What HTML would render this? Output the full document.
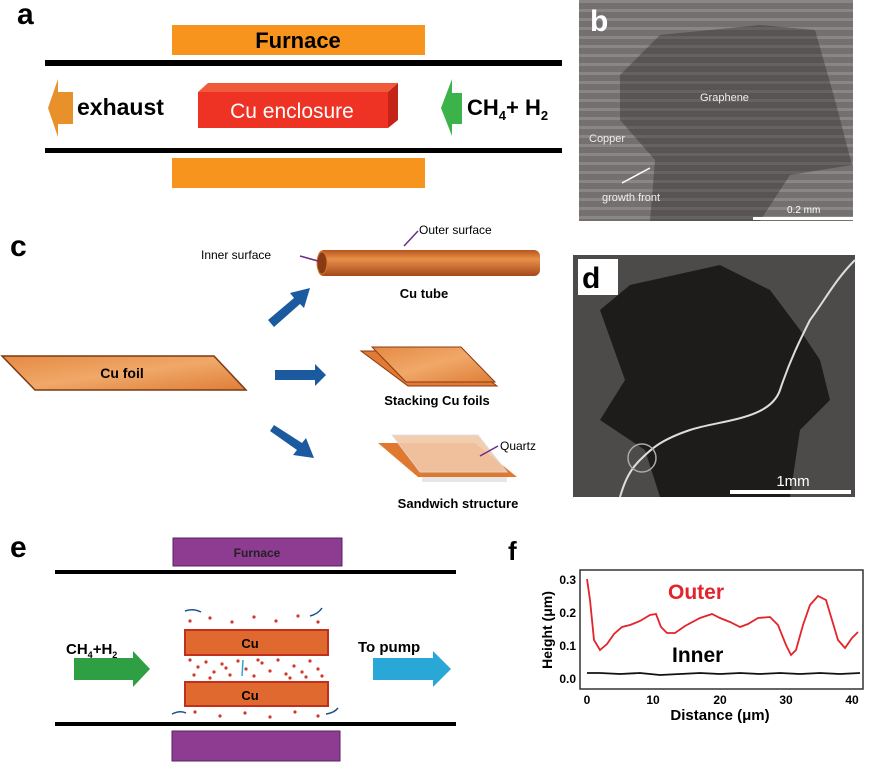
<!DOCTYPE html>
<html><head><meta charset="utf-8"><style>
html,body{margin:0;padding:0;background:#fff;}
svg{display:block;font-family:"Liberation Sans",Arial,sans-serif;}
</style></head><body>
<svg width="869" height="762" viewBox="0 0 869 762" xmlns="http://www.w3.org/2000/svg">
<defs>
<linearGradient id="tube" x1="0" y1="0" x2="0" y2="1">
<stop offset="0" stop-color="#b8541c"/><stop offset="0.35" stop-color="#e8904a"/><stop offset="1" stop-color="#a5481a"/></linearGradient>
<linearGradient id="foil" x1="0" y1="0" x2="1" y2="1">
<stop offset="0" stop-color="#e58a45"/><stop offset="0.5" stop-color="#f0a868"/><stop offset="1" stop-color="#df7d38"/></linearGradient>
<pattern id="stripes" width="10" height="9" patternUnits="userSpaceOnUse">
<rect width="10" height="9" fill="#747070"/><rect y="0" width="10" height="3" fill="#8a8686"/></pattern>
<pattern id="stripes2" width="10" height="9" patternUnits="userSpaceOnUse">
<rect width="10" height="9" fill="#585454"/><rect y="0" width="10" height="3" fill="#666262"/></pattern>
</defs>

<!-- Panel a -->
<text x="17" y="24" font-size="30" font-weight="bold">a</text>
<rect x="172" y="25" width="253" height="30" fill="#f7941d"/>
<text x="298" y="48" font-size="22" font-weight="bold" text-anchor="middle">Furnace</text>
<rect x="45" y="60" width="517" height="6" fill="#000"/>
<rect x="45" y="148" width="517" height="5" fill="#000"/>
<rect x="172" y="158" width="253" height="30" fill="#f7941d"/>
<polygon points="58,92 73,92 73,124 58,124 58,137 48,108 58,79" fill="#e8902a"/>
<text x="77" y="115" font-size="23" font-weight="bold">exhaust</text>
<polygon points="198,92 208,83 398,83 388,92" fill="#f05a3a"/>
<polygon points="388,92 398,83 398,120 388,128" fill="#c42418"/>
<rect x="198" y="92" width="190" height="36" fill="#ee3224"/>
<text x="292" y="118" font-size="21" fill="#fff" text-anchor="middle">Cu enclosure</text>
<polygon points="452,93 462,93 462,124 452,124 452,136 441,108 452,79" fill="#3bb34a"/>
<text x="467" y="115" font-size="22" font-weight="bold">CH<tspan font-size="13" dy="5">4</tspan><tspan dy="-5">+ H</tspan><tspan font-size="13" dy="5">2</tspan></text>

<!-- Panel b -->
<rect x="579" y="0" width="274" height="221" fill="url(#stripes)"/>
<polygon points="620,75 660,35 760,25 815,30 835,100 852,165 790,175 760,221 650,221 655,160 620,120" fill="url(#stripes2)"/>
<text x="590" y="31" font-size="30" font-weight="bold" fill="#fff">b</text>
<text x="700" y="101" font-size="11" fill="#eee">Graphene</text>
<text x="589" y="142" font-size="11" fill="#eee">Copper</text>
<line x1="622" y1="183" x2="650" y2="168" stroke="#fff" stroke-width="1.5"/>
<text x="602" y="201" font-size="11" fill="#eee">growth front</text>
<rect x="753" y="217" width="100" height="3" fill="#fff"/>
<text x="787" y="213" font-size="10" fill="#fff">0.2 mm</text>

<!-- Panel c -->
<text x="10" y="256" font-size="30" font-weight="bold">c</text>
<rect x="318" y="250" width="222" height="26" rx="6" fill="url(#tube)"/>
<ellipse cx="322" cy="263" rx="5" ry="11" fill="#8a3a12" stroke="#d07a3a"/>
<text x="201" y="259" font-size="12">Inner surface</text>
<line x1="300" y1="256" x2="318" y2="261" stroke="#6a2b8a" stroke-width="1.5"/>
<text x="419" y="234" font-size="12">Outer surface</text>
<line x1="418" y1="231" x2="404" y2="246" stroke="#6a2b8a" stroke-width="1.5"/>
<text x="424" y="298" font-size="13" font-weight="bold" text-anchor="middle">Cu tube</text>
<polygon points="2,356 214,356 246,390 35,390" fill="url(#foil)" stroke="#7a3a12" stroke-width="1.5"/>
<text x="122" y="378" font-size="14" font-weight="bold" text-anchor="middle">Cu foil</text>
<g fill="#1c5aa0">
<polygon points="268,320 294,298 290,293 310,288 304,308 300,304 274,327"/>
<polygon points="275,370 315,370 315,364 326,375 315,386 315,380 275,380"/>
<polygon points="270,431 274,425 302,443 306,438 314,458 293,455 297,450"/>
</g>
<polygon points="361,351 450,351 497,386 408,386" fill="#e07a35" stroke="#8a3a12"/>
<polygon points="372,347 461,347 495,382 406,382" fill="url(#foil)" stroke="#8a3a12"/>
<text x="437" y="405" font-size="13" font-weight="bold" text-anchor="middle">Stacking Cu foils</text>
<polygon points="378,443 475,443 517,477 418,477" fill="#e0792f"/>
<polygon points="392,435 478,435 507,472 420,472" fill="#f2c8a8" stroke="#ddd" opacity="0.9"/>
<rect x="422" y="477" width="85" height="5" fill="#e6e6e6"/>
<text x="500" y="450" font-size="12">Quartz</text>
<line x1="480" y1="456" x2="498" y2="446" stroke="#6a2b8a" stroke-width="1.5"/>
<text x="458" y="508" font-size="13" font-weight="bold" text-anchor="middle">Sandwich structure</text>

<!-- Panel d -->
<rect x="573" y="255" width="282" height="242" fill="#4d4a4a"/>
<polygon points="600,310 630,285 720,265 770,290 800,330 820,360 830,400 800,430 790,497 660,497 645,450 600,420 625,380" fill="#1e1b1b"/>
<path d="M855,260 C835,280 825,300 810,320 C800,340 790,360 780,390 C770,420 720,420 690,430 C660,440 650,450 640,460 C630,470 625,480 620,497" fill="none" stroke="#ddd" stroke-width="2"/>
<circle cx="642" cy="458" r="14" fill="none" stroke="#aaa" stroke-width="1.5"/>
<rect x="578" y="259" width="40" height="36" fill="#fff"/>
<text x="582" y="288" font-size="30" font-weight="bold">d</text>
<rect x="730" y="490" width="121" height="4" fill="#fff"/>
<text x="793" y="486" font-size="15" fill="#fff" text-anchor="middle">1mm</text>

<!-- Panel e -->
<text x="10" y="557" font-size="30" font-weight="bold">e</text>
<rect x="173" y="538" width="169" height="28" fill="#8e3c91" stroke="#5a2260"/>
<text x="257" y="557" font-size="12" font-weight="bold" text-anchor="middle" fill="#222">Furnace</text>
<rect x="55" y="570" width="401" height="4" fill="#000"/>
<rect x="55" y="722" width="401" height="4" fill="#000"/>
<rect x="172" y="731" width="168" height="30" fill="#8e3c91" stroke="#5a2260"/>
<text x="66" y="654" font-size="15" font-weight="bold">CH<tspan font-size="9" dy="4">4</tspan><tspan dy="-4">+H</tspan><tspan font-size="9" dy="4">2</tspan></text>
<polygon points="74,658 133,658 133,651 150,669 133,687 133,680 74,680" fill="#2ea043"/>
<text x="358" y="652" font-size="15" font-weight="bold">To pump</text>
<polygon points="373,658 433,658 433,651 451,669 433,687 433,680 373,680" fill="#29a8d8"/>
<rect x="185" y="630" width="143" height="25" fill="#e0692f" stroke="#c0301c" stroke-width="2"/>
<text x="250" y="648" font-size="13" font-weight="bold" text-anchor="middle">Cu</text>
<rect x="185" y="682" width="143" height="24" fill="#e0692f" stroke="#c0301c" stroke-width="2"/>
<text x="250" y="700" font-size="13" font-weight="bold" text-anchor="middle">Cu</text>
<g fill="#d2382a">
<circle cx="190" cy="660" r="1.6"/><circle cx="198" cy="667" r="1.6"/><circle cx="206" cy="662" r="1.6"/><circle cx="214" cy="672" r="1.6"/><circle cx="222" cy="664" r="1.6"/><circle cx="230" cy="675" r="1.6"/><circle cx="238" cy="661" r="1.6"/><circle cx="246" cy="669" r="1.6"/><circle cx="254" cy="676" r="1.6"/><circle cx="262" cy="663" r="1.6"/><circle cx="270" cy="671" r="1.6"/><circle cx="278" cy="660" r="1.6"/><circle cx="286" cy="674" r="1.6"/><circle cx="294" cy="666" r="1.6"/><circle cx="302" cy="672" r="1.6"/><circle cx="310" cy="661" r="1.6"/><circle cx="318" cy="669" r="1.6"/><circle cx="194" cy="675" r="1.6"/><circle cx="210" cy="678" r="1.6"/><circle cx="226" cy="668" r="1.6"/><circle cx="258" cy="660" r="1.6"/><circle cx="290" cy="678" r="1.6"/><circle cx="306" cy="677" r="1.6"/><circle cx="322" cy="676" r="1.6"/>
<circle cx="190" cy="621" r="1.6"/><circle cx="210" cy="618" r="1.6"/><circle cx="232" cy="622" r="1.6"/><circle cx="254" cy="617" r="1.6"/><circle cx="276" cy="621" r="1.6"/><circle cx="298" cy="616" r="1.6"/><circle cx="318" cy="622" r="1.6"/>
<circle cx="195" cy="712" r="1.6"/><circle cx="220" cy="716" r="1.6"/><circle cx="245" cy="713" r="1.6"/><circle cx="270" cy="717" r="1.6"/><circle cx="295" cy="712" r="1.6"/><circle cx="318" cy="716" r="1.6"/>
</g>
<g stroke="#1c4f8f" stroke-width="1.5" fill="none">
<path d="M185,611 q8,-3 16,1"/><path d="M310,616 q8,-2 12,-8"/><path d="M172,714 q8,-4 14,-1"/><path d="M326,714 q8,-1 12,-6"/>
</g>
<line x1="243" y1="660" x2="242" y2="676" stroke="#29a8d8" stroke-width="1.5"/>

<!-- Panel f -->
<text x="508" y="560" font-size="26" font-weight="bold">f</text>
<rect x="580" y="570" width="283" height="119" fill="none" stroke="#333" stroke-width="1.5"/>
<g font-size="12" font-weight="bold" text-anchor="end">
<text x="576" y="584">0.3</text><text x="576" y="617">0.2</text><text x="576" y="650">0.1</text><text x="576" y="683">0.0</text>
</g>
<g font-size="12" font-weight="bold" text-anchor="middle">
<text x="587" y="704">0</text><text x="653" y="704">10</text><text x="720" y="704">20</text><text x="786" y="704">30</text><text x="852" y="704">40</text>
</g>
<text x="720" y="720" font-size="15" font-weight="bold" text-anchor="middle">Distance (μm)</text>
<text transform="translate(552,630) rotate(-90)" font-size="14" font-weight="bold" text-anchor="middle">Height (μm)</text>
<path d="M587,579 L590,600 L594,640 L600,650 L607,644 L614,634 L622,627 L630,625 L640,621 L650,615 L656,614 L661,627 L667,633 L675,633 L685,626 L700,618 L712,614 L720,618 L730,622 L740,627 L748,624 L758,618 L770,617 L778,625 L786,645 L791,655 L796,650 L803,625 L810,605 L818,596 L826,600 L832,620 L838,640 L845,648 L852,638 L858,632" fill="none" stroke="#e3242b" stroke-width="1.8"/>
<path d="M587,673 L600,673 L620,674 L640,673 L660,675 L680,674 L700,673 L720,674 L740,673 L760,674 L780,673 L800,674 L820,673 L840,674 L860,673" fill="none" stroke="#111" stroke-width="1.8"/>
<text x="668" y="599" font-size="21" font-weight="bold" fill="#e3242b">Outer</text>
<text x="672" y="662" font-size="21" font-weight="bold">Inner</text>
</svg>
</body></html>
